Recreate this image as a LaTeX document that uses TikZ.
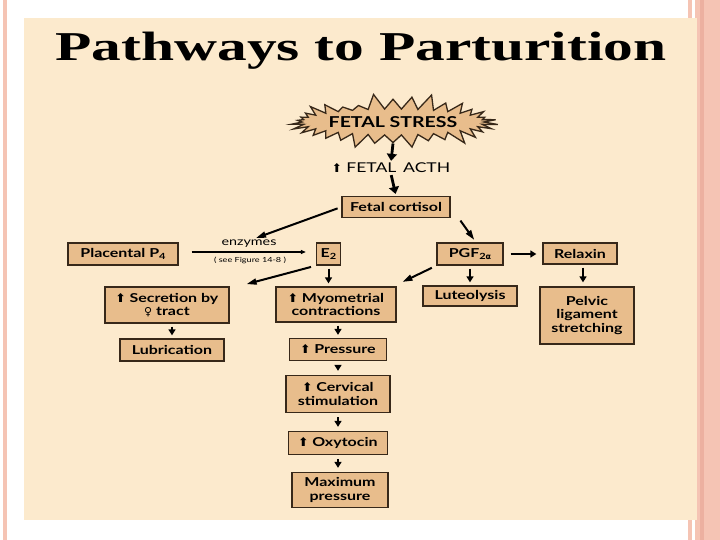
\documentclass[tikz,border=0pt]{standalone}
\usepackage{fontspec}
\setmainfont{Liberation Serif}
\newfontfamily\boxfont[FakeStretch=1.3]{Lato}
\newfontfamily\symfont{DejaVu Sans}
\usetikzlibrary{shapes.symbols,arrows.meta}
\definecolor{panel}{RGB}{252,234,205}
\definecolor{stripe}{RGB}{245,196,180}
\definecolor{stripedark}{RGB}{236,176,160}
\definecolor{boxfill}{RGB}{232,189,140}
\definecolor{boxline}{RGB}{55,40,25}
\newcommand\myup{{\symfont\fontsize{12}{12}\selectfont ⬆}}
\tikzset{
  bx/.style={draw=boxline, line width=1.3pt, fill=boxfill, inner sep=0pt, align=center,
     font=\boxfont\bfseries\fontsize{12.3}{13.2}\selectfont},
  bigarr/.style={line width=2.8pt, -{Triangle[length=7pt,width=10pt]}},
  diagarr/.style={line width=2pt, -{Triangle[length=10pt,width=6pt]}},
  smallarr/.style={line width=2pt, -{Triangle[length=6pt,width=7pt]}},
  thinline/.style={line width=2.2pt}
}
\begin{document}
\begin{tikzpicture}[x=1pt,y=-1pt]
\useasboundingbox (0,0) rectangle (720,540);
\fill[white] (0,0) rectangle (720,540);
\fill[stripe] (3,0) rectangle (7,540);
\fill[stripe] (688,0) rectangle (692,540);
\fill[stripe] (695,0) rectangle (720,540);
\fill[stripedark] (700,0) rectangle (704,540);
\fill[panel] (24,18) rectangle (697,520);

% title
\node[anchor=base, inner sep=0pt, font=\bfseries\fontsize{41}{41}\selectfont] (title) at (361,61)
  {\scalebox{1.45}[1]{Pathways to Parturition}};

% fetal stress
\node[starburst, starburst points=34, starburst point height=16pt, random starburst=5,
      draw=boxline, line width=1.3pt, fill=boxfill, minimum width=210pt, minimum height=58pt,
      inner sep=0pt, font=\boxfont\bfseries\fontsize{15}{15}\selectfont] (stress) at (393,122) {FETAL STRESS};
\node[inner sep=1pt, font=\boxfont\fontsize{13.5}{13.5}\selectfont] (acth) at (391,168)
  {\myup\ FETAL\,\ ACTH};
\node[bx, minimum width=108pt, minimum height=21pt] (cort) at (396,207) {Fetal cortisol};

% row 2
\node[bx, minimum width=110pt, minimum height=22pt] (p4) at (123,254)
  {Placental P\raisebox{-2pt}{\fontsize{8.5}{8.5}\selectfont 4}};
\node[bx, minimum width=24pt, minimum height=22pt] (e2) at (328.5,254)
  {E\raisebox{-2pt}{\fontsize{8.5}{8.5}\selectfont 2}};
\node[bx, minimum width=66pt, minimum height=22pt] (pgf) at (470,254)
  {PGF\raisebox{-2pt}{\fontsize{8.5}{8.5}\selectfont 2{\symfont\fontsize{8}{8}\selectfont α}}};
\node[bx, minimum width=74pt, minimum height=21pt] (relax) at (580,253.5) {Relaxin};
\node[inner sep=0pt, font=\boxfont\fontsize{11}{11}\selectfont] (enz) at (249,244) {enzymes};
\node[inner sep=0pt, font=\boxfont\fontsize{7}{7}\selectfont] (seefig) at (250,260) {( see Figure 14-8 )};
\coordinate (enzend) at (256,238);

% row 3
\node[bx, minimum width=124pt, minimum height=36pt] (sec) at (167,305)
  {\myup\ Secretion by\\{\symfont\fontsize{11}{11}\selectfont ♀} tract};
\node[bx, minimum width=120pt, minimum height=35pt] (myo) at (336,304.5)
  {\myup\ Myometrial\\contractions};
\node[bx, minimum width=94pt, minimum height=20pt] (lut) at (470,296) {Luteolysis};
\node[bx, minimum width=94pt, minimum height=57pt] (pelvic) at (587,315.5)
  {Pelvic\\ligament\\stretching};

% lower
\node[bx, minimum width=104pt, minimum height=22pt] (lub) at (172,350) {Lubrication};
\node[bx, minimum width=97pt, minimum height=22pt] (press) at (338,349.5) {\myup\ Pressure};
\node[bx, minimum width=104pt, minimum height=37pt] (cerv) at (338,394) {\myup\ Cervical\\stimulation};
\node[bx, minimum width=99pt, minimum height=23pt] (oxy) at (338,443) {\myup\ Oxytocin};
\node[bx, minimum width=96pt, minimum height=35pt] (maxp) at (340,490) {Maximum\\pressure};

% connectors
\draw[bigarr, shorten <=0pt, shorten >=1pt] (stress.south) -- (acth.north);
\draw[bigarr, shorten <=1pt, shorten >=2pt] (acth.south) -- (cort.north);
\draw[diagarr, shorten <=4pt] (cort.west) -- (enzend);
\draw[diagarr, shorten <=3pt, shorten >=3pt] ([xshift=8pt]cort.south east) -- ([xshift=6pt]pgf.north);
\draw[thinline, -{Triangle[length=5pt,width=4pt]}, shorten <=13pt, shorten >=10pt] ([yshift=2pt]p4.east) -- ([yshift=2pt]e2.west |- p4.east);
\draw[diagarr, shorten <=5pt, shorten >=1pt] (e2.south west) -- ([xshift=16pt,yshift=2pt]sec.north east);
\draw[smallarr, shorten <=3pt, shorten >=3pt] (e2.south) -- (e2.south |- myo.north);
\draw[diagarr, shorten <=5pt, shorten >=1pt] (pgf.south west) -- ([xshift=5pt,yshift=4pt]myo.north east);
\draw[smallarr, shorten <=3pt, shorten >=3pt] (pgf.south) -- (lut.north);
\draw[smallarr, shorten <=7pt, shorten >=6pt] (pgf.east) -- (relax.west |- pgf.east);
\draw[smallarr, shorten <=3pt, shorten >=4pt] (relax.south -| 583,0) -- (pelvic.north -| 583,0);
\draw[smallarr, shorten <=3pt, shorten >=3pt] (sec.south -| lub.north) -- (lub.north);
\draw[smallarr, shorten <=3pt, shorten >=3pt] (myo.south -| press.north) -- (press.north);
\draw[smallarr, shorten <=4pt, shorten >=4pt] (press.south) -- (cerv.north);
\draw[smallarr, shorten <=4pt, shorten >=4pt] (cerv.south) -- (oxy.north);
\draw[smallarr, shorten <=4pt, shorten >=4pt] (oxy.south) -- (oxy.south |- maxp.north);
\end{tikzpicture}
\end{document}
